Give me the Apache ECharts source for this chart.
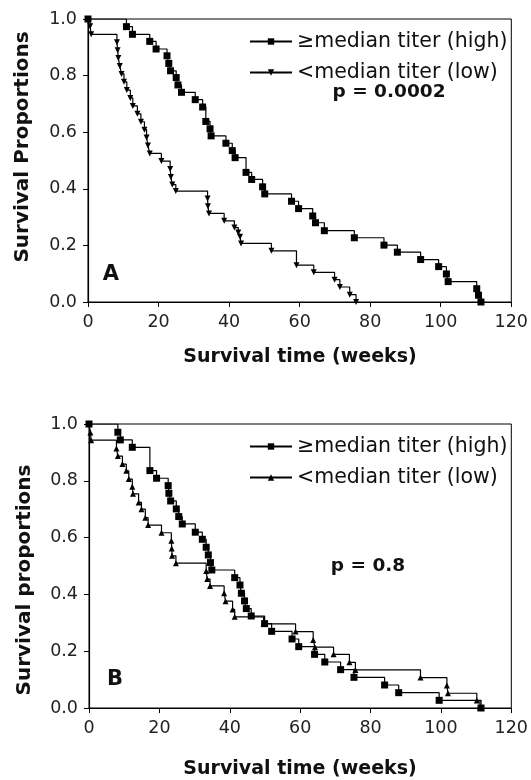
<!DOCTYPE html>
<html><head><meta charset="utf-8">
<script src="https://cdn.jsdelivr.net/npm/echarts@6/dist/echarts.min.js"></script>
<style>html,body{margin:0;padding:0;background:#fff}#c{width:531px;height:780px}</style>
</head><body><div id="c"></div>
<script>
// Panel A
var aHighT = [0, 10.9, 12.6, 17.5, 19.3, 22.4, 22.9, 23.4, 25.0, 25.5, 26.5, 30.4, 32.5, 33.4, 34.6, 34.9, 39.1, 40.9, 41.7, 44.8, 46.4, 49.5, 50.1, 57.7, 59.7, 63.7, 64.5, 67.0, 75.5, 83.9, 87.7, 94.3, 99.4, 101.6, 102.1, 110.2, 110.7, 111.4];
var aHighS = [1, 0.973, 0.946, 0.921, 0.894, 0.870, 0.843, 0.817, 0.793, 0.767, 0.741, 0.715, 0.689, 0.638, 0.612, 0.587, 0.561, 0.535, 0.510, 0.458, 0.433, 0.407, 0.382, 0.356, 0.330, 0.304, 0.280, 0.252, 0.227, 0.201, 0.176, 0.150, 0.125, 0.099, 0.072, 0.047, 0.024, 0];
var aLowT = [0, 0.6, 0.9, 8.2, 8.4, 8.6, 9.0, 9.5, 10.2, 11.0, 12.0, 12.7, 14.0, 15.0, 16.0, 16.6, 17.0, 17.5, 20.8, 23.3, 23.5, 23.9, 24.9, 33.9, 34.0, 34.3, 38.6, 41.5, 42.6, 43.1, 43.4, 52.0, 59.1, 64.0, 69.9, 71.4, 74.2, 76.0];
var aLowS = [1, 0.974, 0.946, 0.918, 0.890, 0.862, 0.834, 0.806, 0.778, 0.749, 0.721, 0.693, 0.665, 0.637, 0.609, 0.581, 0.553, 0.525, 0.498, 0.470, 0.442, 0.415, 0.392, 0.366, 0.338, 0.313, 0.287, 0.263, 0.246, 0.231, 0.207, 0.181, 0.130, 0.105, 0.079, 0.053, 0.026, 0];
// Panel B
var bHighT = [0, 8.2, 8.9, 12.3, 17.3, 19.2, 22.5, 22.7, 23.2, 24.8, 25.5, 26.5, 30.2, 32.2, 33.3, 33.9, 34.5, 34.9, 41.4, 42.9, 43.3, 44.2, 44.7, 46.1, 49.9, 51.9, 57.7, 59.6, 64.1, 67.0, 71.5, 75.3, 84.0, 88.0, 99.5, 111.4];
var bHighS = [1, 0.971, 0.944, 0.918, 0.836, 0.809, 0.783, 0.756, 0.729, 0.701, 0.674, 0.648, 0.619, 0.594, 0.566, 0.539, 0.512, 0.486, 0.459, 0.433, 0.404, 0.377, 0.350, 0.324, 0.297, 0.270, 0.243, 0.216, 0.189, 0.162, 0.135, 0.108, 0.081, 0.054, 0.027, 0];
var bLowT = [0, 0.4, 0.6, 7.8, 8.2, 9.5, 10.6, 11.3, 12.3, 12.5, 14.1, 14.9, 16.0, 16.8, 20.6, 23.4, 23.5, 23.6, 24.7, 33.3, 33.6, 34.4, 38.4, 38.8, 40.8, 41.4, 49.6, 58.7, 63.7, 64.2, 69.5, 74.0, 75.7, 94.2, 101.7, 102.0, 110.2, 111.1];
var bLowS = [1, 0.970, 0.943, 0.914, 0.887, 0.859, 0.835, 0.806, 0.779, 0.754, 0.724, 0.700, 0.670, 0.644, 0.617, 0.589, 0.562, 0.536, 0.510, 0.482, 0.454, 0.430, 0.404, 0.376, 0.347, 0.321, 0.296, 0.269, 0.239, 0.214, 0.189, 0.161, 0.134, 0.107, 0.079, 0.052, 0.026, 0];

var xTicks = [0, 20, 40, 60, 80, 100, 120];
var yTicks = [0.0, 0.2, 0.4, 0.6, 0.8, 1.0];
var nameHigh = '≥median titer (high)';
var nameLow = '<median titer (low)';
var pA = 'p = 0.0002';
var pB = 'p = 0.8';

function pairs(t, s) { return t.map(function (v, i) { return [v, s[i]]; }); }

var FONT = '"DejaVu Sans", sans-serif';
var chart = echarts.init(document.getElementById('c'), null, { renderer: 'canvas' });

function xAx(idx) {
  return {
    gridIndex: idx, type: 'value', min: xTicks[0], max: xTicks[xTicks.length - 1], interval: 20,
    axisLine: { lineStyle: { color: '#000', width: 1.2 } },
    axisTick: { inside: false, length: 5, lineStyle: { color: '#000' } },
    axisLabel: { color: '#222', fontSize: 17.5, fontFamily: FONT, margin: 11 },
    splitLine: { show: false }
  };
}
function yAx(idx) {
  return {
    gridIndex: idx, type: 'value', min: yTicks[0], max: yTicks[yTicks.length - 1], interval: 0.2,
    axisLine: { lineStyle: { color: '#000', width: 1.2 } },
    axisTick: { inside: false, length: 5, lineStyle: { color: '#000' } },
    axisLabel: { color: '#222', fontSize: 17.5, fontFamily: FONT, margin: 11, formatter: function (v) { return v.toFixed(1); } },
    splitLine: { show: false }
  };
}
function ser(name, idx, t, s, sym, rot, size) {
  return {
    name: name, type: 'line', xAxisIndex: idx, yAxisIndex: idx, step: 'end',
    data: pairs(t, s), symbol: sym, symbolSize: size, symbolRotate: rot, showAllSymbol: true,
    lineStyle: { color: '#000', width: 1.2 }, itemStyle: { color: '#000' },
    animation: false, silent: true
  };
}
function legendFor(names, top) {
  return {
    orient: 'vertical', left: 249, top: top, itemWidth: 42, itemHeight: 8, itemGap: 10,
    data: names, padding: 0, selectedMode: false,
    formatter: function (n) { return n.replace(/^[AB]:/, ''); },
    textStyle: { fontSize: 20.5, color: '#111', fontFamily: FONT }
  };
}

var option = {
  backgroundColor: '#fff',
  animation: false,
  grid: [
    { left: 88, right: 18, top: 19, height: 283, show: true, borderColor: '#000', borderWidth: 1, backgroundColor: 'transparent' },
    { left: 89, right: 16, top: 424, height: 284, show: true, borderColor: '#000', borderWidth: 1, backgroundColor: 'transparent' }
  ],
  xAxis: [xAx(0), xAx(1)],
  yAxis: [yAx(0), yAx(1)],
  legend: [legendFor(['A:' + nameHigh, 'A:' + nameLow], 31), legendFor(['B:' + nameHigh, 'B:' + nameLow], 436)],
  series: [
    ser('A:' + nameHigh, 0, aHighT, aHighS, 'rect', 0, 7),
    ser('A:' + nameLow, 0, aLowT, aLowS, 'triangle', 180, 6),
    ser('B:' + nameHigh, 1, bHighT, bHighS, 'rect', 0, 7),
    ser('B:' + nameLow, 1, bLowT, bLowS, 'triangle', 0, 6)
  ],
  graphic: [
    { type: 'text', x: 389, y: 92, style: { text: pA, font: 'bold 18.5px ' + FONT, fill: '#111', align: 'center', verticalAlign: 'middle' } },
    { type: 'text', x: 368, y: 566, style: { text: pB, font: 'bold 18.5px ' + FONT, fill: '#111', align: 'center', verticalAlign: 'middle' } },
    { type: 'text', x: 111, y: 275, style: { text: 'A', font: 'bold 21px ' + FONT, fill: '#111', align: 'center', verticalAlign: 'middle' } },
    { type: 'text', x: 115, y: 680, style: { text: 'B', font: 'bold 21px ' + FONT, fill: '#111', align: 'center', verticalAlign: 'middle' } },
    { type: 'text', x: 300, y: 357, style: { text: 'Survival time (weeks)', font: 'bold 19px ' + FONT, fill: '#111', align: 'center', verticalAlign: 'middle' } },
    { type: 'text', x: 300, y: 769, style: { text: 'Survival time (weeks)', font: 'bold 19px ' + FONT, fill: '#111', align: 'center', verticalAlign: 'middle' } },
    { type: 'text', x: 23, y: 147, rotation: Math.PI / 2, style: { text: 'Survival Proportions', font: 'bold 20px ' + FONT, fill: '#111', align: 'center', verticalAlign: 'middle' } },
    { type: 'text', x: 25, y: 580, rotation: Math.PI / 2, style: { text: 'Survival proportions', font: 'bold 20px ' + FONT, fill: '#111', align: 'center', verticalAlign: 'middle' } }
  ]
};
chart.setOption(option);
</script></body></html>
